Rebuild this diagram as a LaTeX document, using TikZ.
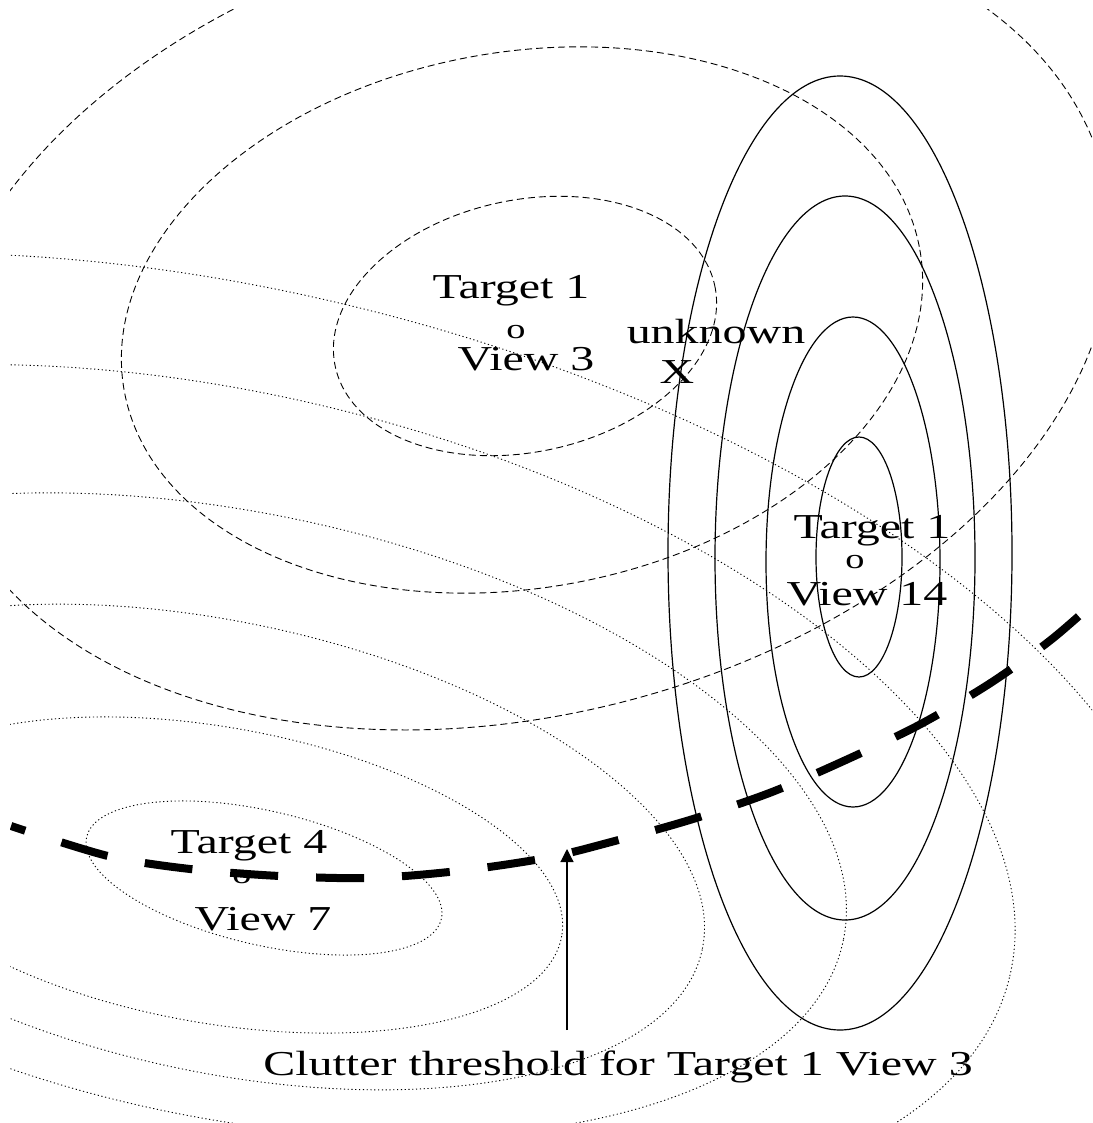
\documentclass[tikz,border=0pt]{standalone}
\usepackage{fontspec}
\newfontfamily\lblfont{Liberation Serif}[FakeStretch=1.37]
\usetikzlibrary{arrows.meta}

\begin{document}
\begin{tikzpicture}[x=1pt,y=-1pt,font=\lblfont\fontsize{35}{37}\selectfont,
  viewthree/.style={line width=0.9pt,dash pattern=on 7pt off 4pt},
  viewfourteen/.style={line width=1.2pt},
  viewseven/.style={line width=0.9pt,dash pattern=on 1.2pt off 2.6pt},
  clutter/.style={line width=8pt,dash pattern=on 48pt off 38pt,dash phase=33pt},
  lbl/.style={inner sep=0pt,anchor=base},
  centre/.style={lbl,font=\lblfont\fontsize{28}{30}\selectfont}]
  \useasboundingbox (0,0) rectangle (1092,1123);
  \clip (10,10) rectangle (1092,1123);
  \draw[viewseven,rotate around={-13:(264,878)}] (264,878) ellipse [x radius=182,y radius=67];
  \draw[viewseven,rotate around={-10:(215,875)}] (215,875) ellipse [x radius=352,y radius=148];
  \draw[viewseven,rotate around={-12:(220,847)}] (220,847) ellipse [x radius=493,y radius=225];
  \draw[viewseven,rotate around={-11.5:(230,815)}] (230,815) ellipse [x radius=626,y radius=303];
  \draw[viewseven,rotate around={-13.7:(240,790)}] (240,790) ellipse [x radius=792,y radius=393];
  \draw[viewseven,rotate around={-14:(250,765)}] (250,765) ellipse [x radius=960,y radius=470];
  \draw[viewthree,rotate around={12:(525,326)}] (525,326) ellipse [x radius=194,y radius=126];
  \draw[viewthree,rotate around={10:(522,320)}] (522,320) ellipse [x radius=404,y radius=268];
  \draw[viewthree,rotate around={14:(522,320)}] (522,320) ellipse [x radius=600,y radius=395];
  \draw[viewfourteen] (859,557) ellipse [x radius=43,y radius=120];
  \draw[viewfourteen] (853,562) ellipse [x radius=87,y radius=245];
  \draw[viewfourteen] (845,558) ellipse [x radius=130,y radius=362];
  \draw[viewfourteen] (840,553) ellipse [x radius=172,y radius=477];
  \draw[clutter] plot[smooth] coordinates {(11,826) (108,856) (190,869) (280,876) (370,878)
    (458,871) (546,858) (611,842) (693,819) (772,792) (848,759) (919,725) (989,684)
    (1052,639) (1109,589)};
  \node[lbl] (tonetop) at (511,298) {Target 1};
  \node[centre] (toneo) at (516,338) {o};
  \node[lbl] (tonebot) at (526,370) {View 3};
  \node[lbl] (unk) at (716,343) {unknown};
  \node[lbl] (unkx) at (677,383) {X};
  \node[lbl] (tfourteentop) at (872,538) {Target 1};
  \node[centre] (tfourteeno) at (855,568) {o};
  \node[lbl] (tfourteenbot) at (867,605) {View 14};
  \node[lbl] (tfourtop) at (249,853) {Target 4};
  \node[centre] (tfouro) at (242,883) {o};
  \node[lbl] (tfourbot) at (263,930) {View 7};
  \node[lbl] (clutlbl) at (618,1075) {Clutter threshold for Target 1 View 3};
  \coordinate (clutbase) at (567,1030);
  \coordinate (clutpt) at (567,849);
  \draw[line width=1.2pt,-{Triangle[width=13pt,length=13pt]}] (clutbase) -- (clutpt);
\end{tikzpicture}
\end{document}
